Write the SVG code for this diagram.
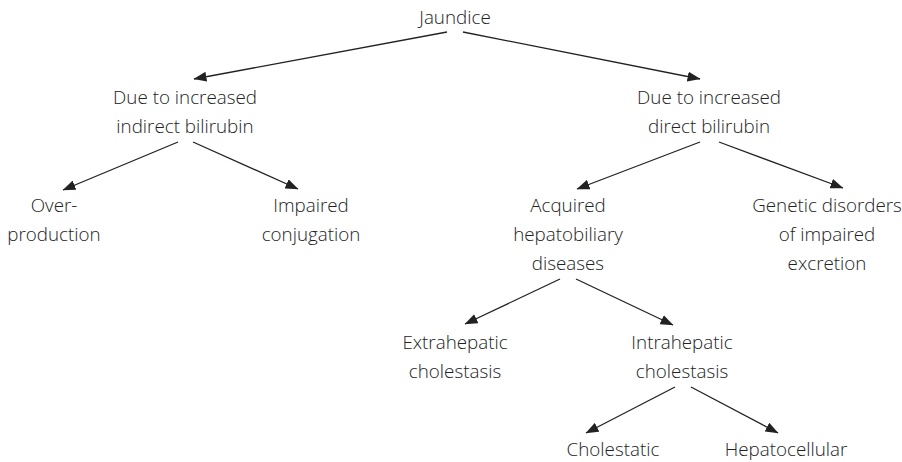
<svg xmlns="http://www.w3.org/2000/svg" width="902" height="462" viewBox="0 0 902 462">
  <style>
    text { font-family: "Open Sans", "Noto Sans", "Liberation Sans", sans-serif; font-size: 18.8px; font-weight: 300; fill: #222; text-anchor: middle; }
    .edge { stroke: #222; stroke-width: 1.3; fill: none; marker-end: url(#arrow); }
  </style>
  <defs>
    <marker id="arrow" markerUnits="userSpaceOnUse" markerWidth="13" markerHeight="10" viewBox="0 0 13 10" refX="12.5" refY="5" orient="auto">
      <path d="M0,0 L13,5 L0,10 Z" fill="#222"/>
    </marker>
  </defs>
  <rect width="902" height="462" fill="#fff"/>

  <g id="connectors">
    <line class="edge" x1="447" y1="32" x2="194" y2="79"/>
    <line class="edge" x1="463" y1="32" x2="700" y2="79"/>
    <line class="edge" x1="178" y1="142" x2="63" y2="190"/>
    <line class="edge" x1="193" y1="142" x2="298" y2="189"/>
    <line class="edge" x1="700" y1="142" x2="577" y2="189"/>
    <line class="edge" x1="719" y1="142" x2="843" y2="188"/>
    <line class="edge" x1="560" y1="279" x2="465" y2="324"/>
    <line class="edge" x1="576" y1="279" x2="673" y2="325"/>
    <line class="edge" x1="675" y1="387" x2="586" y2="433"/>
    <line class="edge" x1="691" y1="387" x2="778" y2="433"/>
  </g>

  <g id="jaundice"><text x="455" y="24">Jaundice</text></g>
  <g id="indirect">
    <text x="185" y="104">Due to increased</text>
    <text x="185" y="133">indirect bilirubin</text>
  </g>
  <g id="direct">
    <text x="709" y="104">Due to increased</text>
    <text x="709" y="133">direct bilirubin</text>
  </g>
  <g id="overproduction">
    <text x="54" y="212">Over-</text>
    <text x="54" y="241">production</text>
  </g>
  <g id="impaired-conjugation">
    <text x="311" y="212">Impaired</text>
    <text x="311" y="241">conjugation</text>
  </g>
  <g id="acquired">
    <text x="568" y="212">Acquired</text>
    <text x="568" y="241">hepatobiliary</text>
    <text x="568" y="270">diseases</text>
  </g>
  <g id="genetic">
    <text x="827" y="212">Genetic disorders</text>
    <text x="827" y="241">of impaired</text>
    <text x="827" y="270">excretion</text>
  </g>
  <g id="extrahepatic">
    <text x="455" y="349">Extrahepatic</text>
    <text x="455" y="378">cholestasis</text>
  </g>
  <g id="intrahepatic">
    <text x="682" y="349">Intrahepatic</text>
    <text x="682" y="378">cholestasis</text>
  </g>
  <g id="cholestatic"><text x="613" y="456">Cholestatic</text></g>
  <g id="hepatocellular"><text x="786" y="456">Hepatocellular</text></g>
</svg>
